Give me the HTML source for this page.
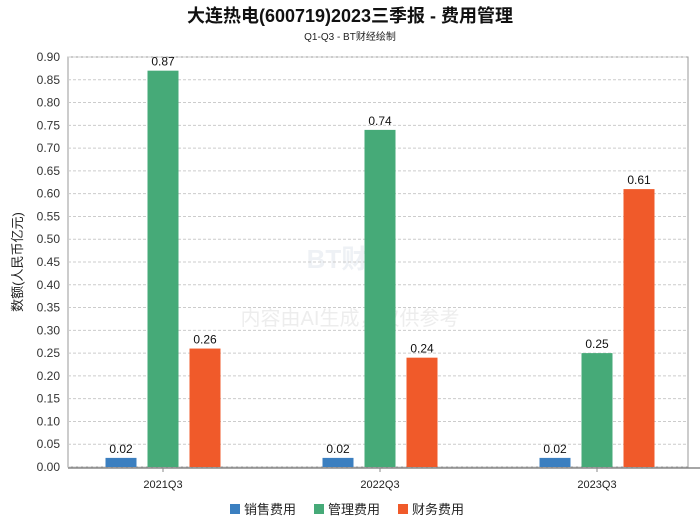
<!DOCTYPE html>
<html><head><meta charset="utf-8"><style>
body{margin:0;background:#fff;font-family:"Liberation Sans","Noto Sans CJK SC",sans-serif;}
svg text{font-family:"Liberation Sans","Noto Sans CJK SC",sans-serif;}
</style></head><body>
<svg id="c" width="700" height="524" xmlns="http://www.w3.org/2000/svg">
<text x="350" y="22" text-anchor="middle" font-size="18" font-weight="bold" fill="#111">大连热电(600719)2023三季报 - 费用管理</text>
<text x="350" y="40" text-anchor="middle" font-size="10" fill="#222">Q1-Q3 - BT财经绘制</text>
<text x="350" y="268" text-anchor="middle" font-size="26" font-weight="bold" fill="#eef1f5">BT财经</text>
<text x="350" y="325" text-anchor="middle" font-size="20" fill="#ededed">内容由AI生成，仅供参考</text>
<g id="grid"></g><g id="bars"></g><g id="axes"></g>
<text transform="translate(22,262) rotate(-90)" text-anchor="middle" font-size="13" fill="#222">数额(人民币亿元)</text>
<g>
<rect x="230" y="504" width="10" height="10" fill="#3b7fc0"/>
<text x="244" y="514" font-size="13" fill="#222">销售费用</text>
<rect x="314" y="504" width="10" height="10" fill="#46aa78"/>
<text x="328" y="514" font-size="13" fill="#222">管理费用</text>
<rect x="398" y="504" width="10" height="10" fill="#f05a2a"/>
<text x="412" y="514" font-size="13" fill="#222">财务费用</text>
</g>
</svg>
<script>
const categories=["2021Q3","2022Q3","2023Q3"];
const salesValues=[0.02,0.02,0.02];
const adminValues=[0.87,0.74,0.25];
const financeValues=[0.26,0.24,0.61];
const yTicks=[0,0.05,0.1,0.15,0.2,0.25,0.3,0.35,0.4,0.45,0.5,0.55,0.6,0.65,0.7,0.75,0.8,0.85,0.9];
const L=68,R=688,T=57,B=467,YMAX=0.9;
const CL=54.5,CR=705.5;
const ns="http://www.w3.org/2000/svg";
const y=v=>B-v/YMAX*(B-T);
const gw=(CR-CL)/categories.length;
const x=i=>CL+gw*(i+0.5);
function mk(t,a,p){const e=document.createElementNS(ns,t);for(const k in a)e.setAttribute(k,a[k]);p.appendChild(e);return e;}
const grid=document.getElementById('grid'),bars=document.getElementById('bars'),axes=document.getElementById('axes');
mk('rect',{x:L,y:T,width:R-L,height:B-T,fill:'none',stroke:'#999'},grid);
yTicks.forEach(v=>{
 const l=mk('line',{x1:L,x2:R,y1:y(v),y2:y(v),stroke:'#ccc','stroke-dasharray':'3,2'},grid);
 
 
 const t=mk('text',{x:L-8,y:y(v)+4,'text-anchor':'end','font-size':12,fill:'#333'},axes);
 t.textContent=v.toFixed(2);
 
 
});
mk('line',{x1:L,x2:700,y1:B+1,y2:B+1,stroke:'#888','stroke-width':1.5},axes);
const series=[[salesValues,'#3b7fc0','sales',-42],[adminValues,'#46aa78','admin',0],[financeValues,'#f05a2a','finance',42]];
categories.forEach((c,i)=>{
 const tk=mk('line',{x1:x(i),x2:x(i),y1:B+1,y2:B+5,stroke:'#888'},axes);
 
 
 const t=mk('text',{x:x(i),y:B+21,'text-anchor':'middle','font-size':11,fill:'#222'},axes);
 t.textContent=c;
 
 
 series.forEach(([vals,col,nm,off])=>{
  const v=vals[i],bx=x(i)+off-15.5;
  const r=mk('rect',{x:bx,y:y(v),width:31,height:B-y(v),fill:col},bars);
  
  
  const lb=mk('text',{x:x(i)+off,y:y(v)-5,'text-anchor':'middle','font-size':12,fill:'#111'},bars);
  lb.textContent=v.toFixed(2);
  
  
 });
});
</script>
</body></html>
